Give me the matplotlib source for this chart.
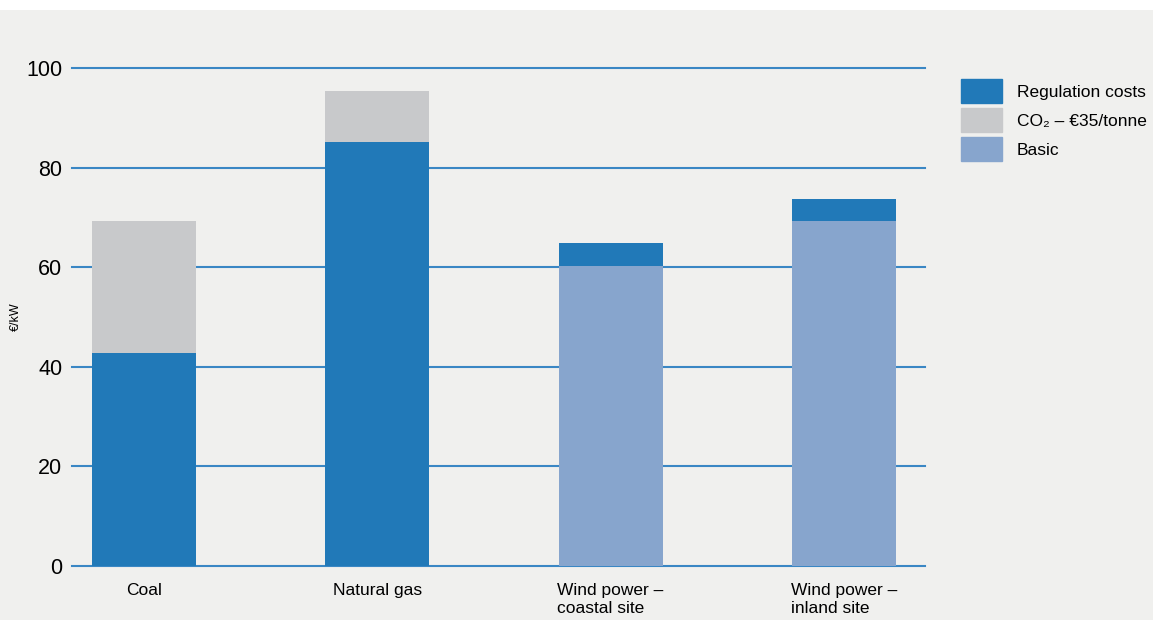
import matplotlib.pyplot as plt
import matplotlib.patches as mpatches
import numpy as np

plt.rcParams['font.family'] = ['Liberation Sans', 'DejaVu Sans']

# data
categories = ['Coal', 'Natural gas', 'Wind power –\ncoastal site', 'Wind power –\ninland site']
basic = [0, 0, 60.2, 69.3]
regulation = [42.8, 85.1, 4.6, 4.4]
co2 = [26.5, 10.3, 0, 0]
yticks = [0, 20, 40, 60, 80, 100]

c_reg = '#2179b8'
c_co2 = '#c8c9cb'
c_basic = '#87a5cd'
c_grid = '#3a87c4'
bg = '#f0f0ee'

fig = plt.figure(figsize=(11.53, 6.2), dpi=100)
fig.patch.set_facecolor(bg)
# white strip along the top edge
fig.add_artist(mpatches.Rectangle((0, 610 / 620), 1, 10 / 620, transform=fig.transFigure,
                                  facecolor='white', edgecolor='none'))

ax = fig.add_axes([72 / 1153, 54 / 620, 853 / 1153, 498 / 620])
ax.set_facecolor(bg)

x = np.arange(len(categories))
w = 0.446
ax.bar(x, basic, w, color=c_basic, zorder=3)
ax.bar(x, regulation, w, bottom=basic, color=c_reg, zorder=3)
bottom2 = np.array(basic) + np.array(regulation)
ax.bar(x, co2, w, bottom=bottom2, color=c_co2, zorder=3)

for t in yticks:
    ax.axhline(t, color=c_grid, lw=1.5, zorder=2, clip_on=False)

ax.set_xlim(-0.309, 3.348)
ax.set_ylim(0, 100)
ax.set_yticks(yticks)
ax.set_yticklabels([str(t) for t in yticks], fontsize=15.5)
ax.set_xticks(x)
ax.set_xticklabels(categories, fontsize=12.5, linespacing=1.3, multialignment='left')
ax.tick_params(axis='both', length=0, colors='black')
ax.tick_params(axis='y', pad=7)
ax.tick_params(axis='x', pad=12)
for s in ax.spines.values():
    s.set_visible(False)

ax.set_ylabel('€/kW', fontsize=9, labelpad=3)

handles = [mpatches.Patch(color=c_reg, label='Regulation costs'),
           mpatches.Patch(color=c_co2, label='CO\u2082 – €35/tonne'),
           mpatches.Patch(color=c_basic, label='Basic')]
fig.legend(handles=handles, loc='upper left', bbox_to_anchor=(954 / 1153, 1 - 72 / 620),
           frameon=False, fontsize=12.5, handlelength=2.36, handleheight=1.75,
           handletextpad=0.86, labelspacing=0.3, borderaxespad=0)

fig.savefig('out.png', dpi=100, facecolor=fig.get_facecolor())
